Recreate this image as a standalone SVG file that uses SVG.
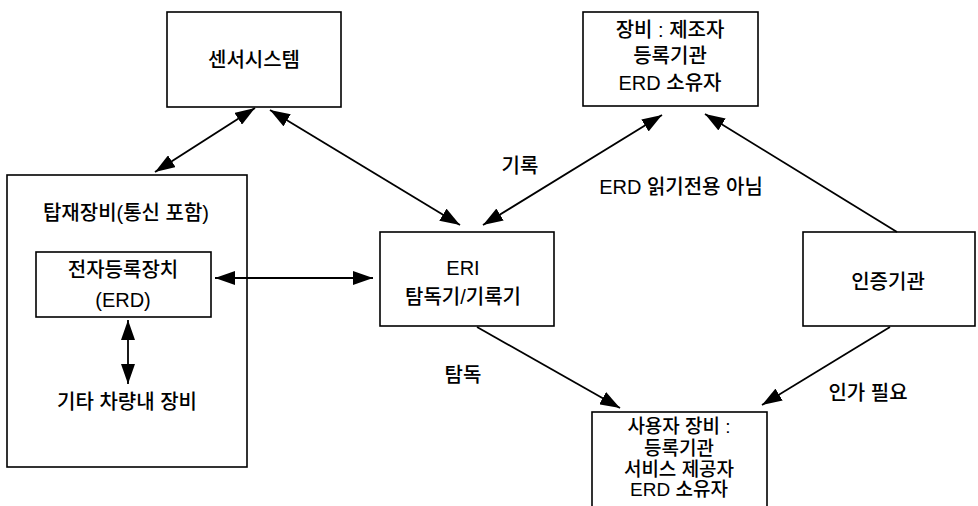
<svg xmlns="http://www.w3.org/2000/svg" width="978" height="506" viewBox="0 0 978 506">
<style>
.box{fill:#fff;stroke:#000;stroke-width:1.6}
.t{font-family:"Liberation Sans","Noto Sans CJK KR",sans-serif;font-size:20px;font-weight:500;fill:#000;text-anchor:middle}
.s{font-size:19px}
.c{stroke:#000;stroke-width:1.8;fill:none;marker-end:url(#ah)}
.d{marker-start:url(#ah)}
</style>
<defs>
<marker id="ah" viewBox="0 0 20 14" refX="20" refY="7" markerWidth="20" markerHeight="14" markerUnits="userSpaceOnUse" orient="auto-start-reverse">
<path d="M0,0 L20,7 L0,14 z" fill="#000"/>
</marker>
</defs>
<rect width="978" height="506" fill="#fff"/>
<g id="sensor">
<rect class="box" x="167" y="12" width="174" height="95"/>
<text class="t" x="254" y="67">센서시스템</text>
</g>
<g id="device-maker">
<rect class="box" x="583" y="12" width="175" height="94"/>
<text class="t" x="670" y="37">장비 : 제조자</text>
<text class="t" x="670" y="63">등록기관</text>
<text class="t" x="670" y="90">ERD 소유자</text>
</g>
<g id="onboard">
<rect class="box" x="7" y="175" width="240" height="292"/>
<text class="t" x="126" y="220">탑재장비(통신 포함)</text>
</g>
<g id="erd">
<rect class="box" x="36" y="252" width="175" height="65"/>
<text class="t" x="123" y="277">전자등록장치</text>
<text class="t" x="123" y="307">(ERD)</text>
</g>
<g id="other">
<text class="t" x="127" y="409">기타 차량내 장비</text>
</g>
<g id="eri">
<rect class="box" x="380" y="232" width="174" height="94"/>
<text class="t" x="463" y="275">ERI</text>
<text class="t" x="463" y="304">탐독기/기록기</text>
</g>
<g id="auth">
<rect class="box" x="803" y="232" width="172" height="94"/>
<text class="t" x="888" y="289">인증기관</text>
</g>
<g id="user-device">
<rect class="box" x="592" y="412" width="175" height="110"/>
<text class="t s" x="679" y="433">사용자 장비 :</text>
<text class="t s" x="679" y="455">등록기관</text>
<text class="t s" x="679" y="476">서비스 제공자</text>
<text class="t s" x="679" y="496">ERD 소유자</text>
</g>
<g id="connectors">
<line class="c d" x1="155" y1="172" x2="255" y2="108"/>
<line class="c d" x1="270" y1="110" x2="460" y2="225"/>
<line class="c d" x1="483" y1="225" x2="662" y2="115"/>
<line class="c" x1="897" y1="232" x2="705" y2="114"/>
<line class="c d" x1="215" y1="278" x2="373" y2="278"/>
<line class="c d" x1="128" y1="320" x2="128" y2="384"/>
<line class="c" x1="477" y1="327" x2="620" y2="408"/>
<line class="c" x1="890" y1="327" x2="762" y2="405"/>
</g>
<g id="labels">
<text class="t" x="520" y="173">기록</text>
<text class="t" x="681" y="194">ERD 읽기전용 아님</text>
<text class="t" x="463" y="382">탐독</text>
<text class="t" x="868" y="400">인가 필요</text>
</g>
</svg>
